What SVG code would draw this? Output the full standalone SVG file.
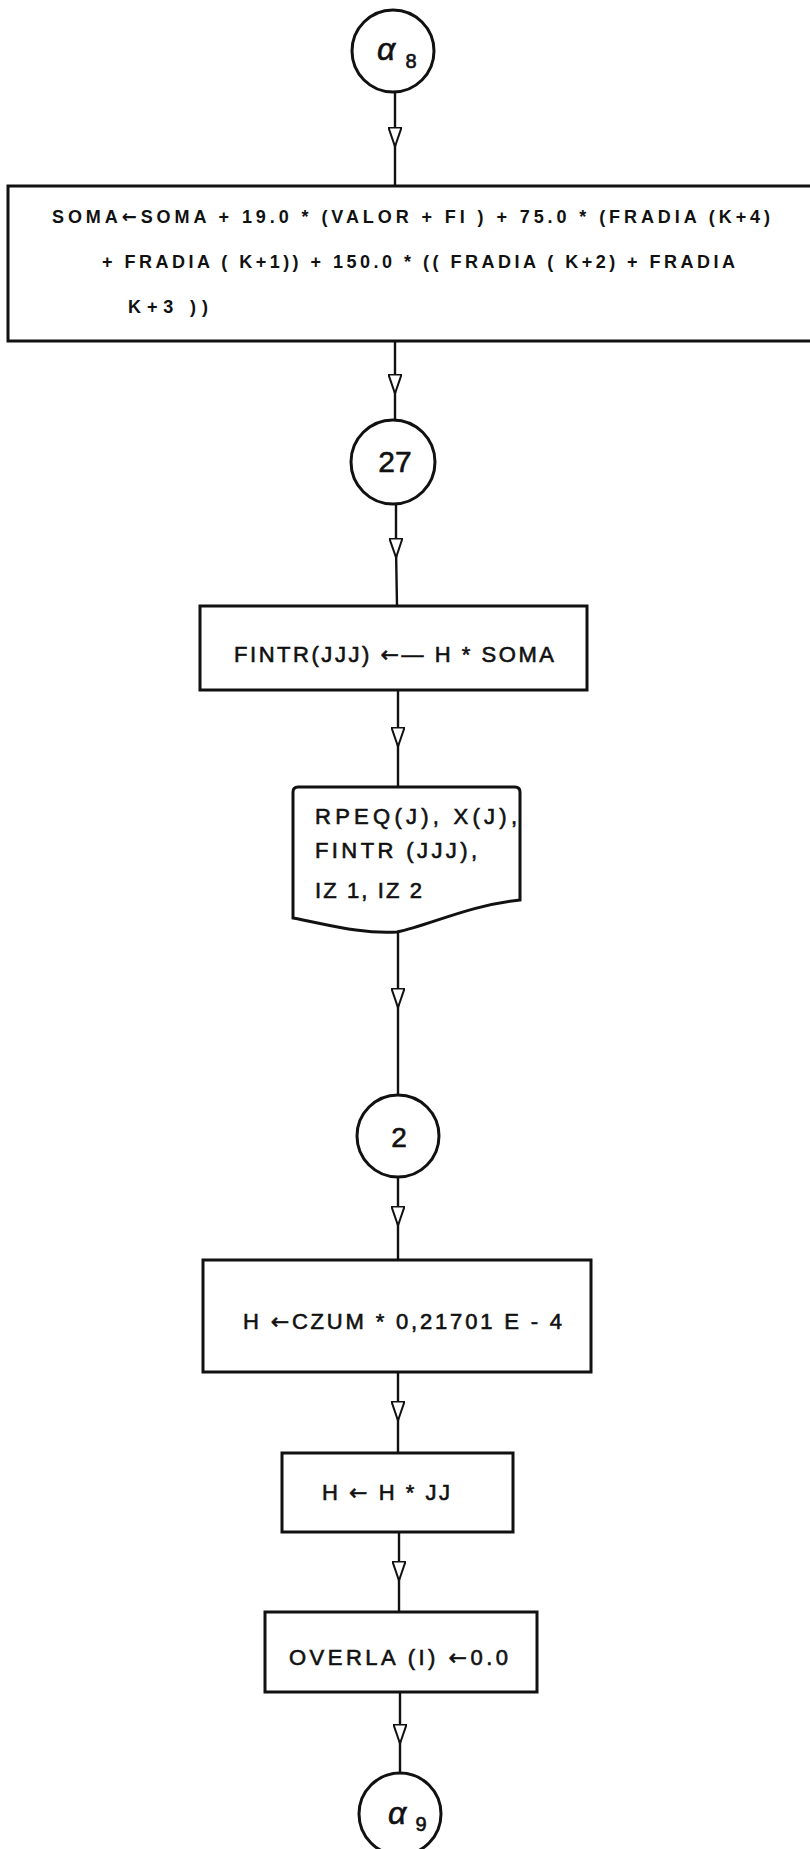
<svg xmlns="http://www.w3.org/2000/svg" width="810" height="1849" viewBox="0 0 810 1849">
<style>
.sh{fill:#fff;stroke:#111;stroke-width:3}
.ln{fill:none;stroke:#111;stroke-width:2.4}
.t{font-family:"Liberation Sans",Arial,sans-serif;fill:#111;font-size:22px;stroke:#111;stroke-width:0.6}
.tb{font-family:"Liberation Sans",Arial,sans-serif;fill:#111;font-size:18px;font-weight:bold}
.c{font-family:"Liberation Sans",Arial,sans-serif;fill:#111;text-anchor:middle;stroke:#111;stroke-width:0.6}
.ar{font-family:"DejaVu Sans",sans-serif}
</style>
<defs>
<marker id="ah" viewBox="0 0 20 14" refX="10" refY="7" markerWidth="20" markerHeight="14" markerUnits="userSpaceOnUse" orient="auto">
<polygon points="0.5,0.5 19.5,7 0.5,13.5" fill="#fff" stroke="#111" stroke-width="2"/>
</marker>
</defs>
<rect width="810" height="1849" fill="#fff"/>
<g id="connectors">
<path class="ln" d="M395 92 L395 137 L395 186" marker-mid="url(#ah)"/>
<path class="ln" d="M395 341 L395 384 L395 420" marker-mid="url(#ah)"/>
<path class="ln" d="M396 503 L396 548 L397 606" marker-mid="url(#ah)"/>
<path class="ln" d="M398 690 L398 737 L398 787" marker-mid="url(#ah)"/>
<path class="ln" d="M398 933 L398 998 L398 1095" marker-mid="url(#ah)"/>
<path class="ln" d="M398 1177 L398 1216 L398 1260" marker-mid="url(#ah)"/>
<path class="ln" d="M398 1372 L398 1411 L398 1453" marker-mid="url(#ah)"/>
<path class="ln" d="M399 1532 L399 1571 L399 1612" marker-mid="url(#ah)"/>
<path class="ln" d="M400 1692 L400 1734 L400 1773" marker-mid="url(#ah)"/>
</g>
<g id="alpha8">
<circle class="sh" cx="393" cy="51" r="41"/>
<text class="c" x="386" y="60" font-size="32" font-style="italic">α</text>
<text class="c" x="411" y="68" font-size="20">8</text>
</g>
<g id="box-soma">
<rect class="sh" x="8" y="186" width="806" height="155"/>
<text class="tb" x="52" y="223" textLength="718" lengthAdjust="spacing">SOMA<tspan class="ar">←</tspan>SOMA + 19.0 * (VALOR + FI ) + 75.0 * (FRADIA (K+4)</text>
<text class="tb" x="102" y="268" textLength="633" lengthAdjust="spacing">+ FRADIA ( K+1)) + 150.0 * (( FRADIA ( K+2) + FRADIA</text>
<text class="tb" x="128" y="313" textLength="80" lengthAdjust="spacing">K+3 ))</text>
</g>
<g id="c27">
<circle class="sh" cx="393" cy="462" r="42"/>
<text class="c" x="395" y="472" font-size="30">27</text>
</g>
<g id="box-fintr">
<rect class="sh" x="200" y="606" width="387" height="84"/>
<text class="t" x="234" y="662" textLength="320" lengthAdjust="spacing">FINTR(JJJ) <tspan class="ar">←</tspan>— H * SOMA</text>
</g>
<g id="doc-output">
<path class="sh" d="M293 918 L293 792 Q293 787 298 787 L515 787 Q520 787 520 792 L520 900 C470 905 430 925 397 932 C360 934 330 925 293 918 Z"/>
<text class="t" x="315" y="824" font-size="20" textLength="202" lengthAdjust="spacing">RPEQ(J), X(J),</text>
<text class="t" x="315" y="858" font-size="20" textLength="162" lengthAdjust="spacing">FINTR (JJJ),</text>
<text class="t" x="315" y="898" font-size="20" textLength="107" lengthAdjust="spacing">IZ 1, IZ 2</text>
</g>
<g id="c2">
<circle class="sh" cx="398" cy="1136" r="41"/>
<text class="c" x="399" y="1147" font-size="28">2</text>
</g>
<g id="box-czum">
<rect class="sh" x="203" y="1260" width="388" height="112"/>
<text class="t" x="243" y="1329" textLength="319" lengthAdjust="spacing">H <tspan class="ar">←</tspan>CZUM * 0,21701 E - 4</text>
</g>
<g id="box-hjj">
<rect class="sh" x="282" y="1453" width="231" height="79"/>
<text class="t" x="322" y="1500" textLength="128" lengthAdjust="spacing">H <tspan class="ar">←</tspan> H * JJ</text>
</g>
<g id="box-overla">
<rect class="sh" x="265" y="1612" width="272" height="80"/>
<text class="t" x="289" y="1665" textLength="219" lengthAdjust="spacing">OVERLA (I) <tspan class="ar">←</tspan>0.0</text>
</g>
<g id="alpha9">
<circle class="sh" cx="400" cy="1814" r="41"/>
<text class="c" x="397" y="1824" font-size="32" font-style="italic">α</text>
<text class="c" x="421" y="1831" font-size="20">9</text>
</g>
</svg>
